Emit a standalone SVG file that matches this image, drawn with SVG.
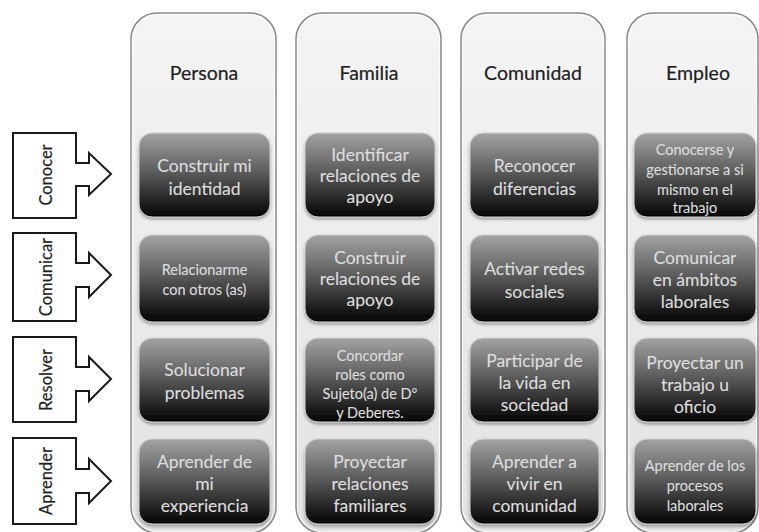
<svg xmlns="http://www.w3.org/2000/svg" width="759" height="532" viewBox="0 0 759 532">
  <defs>
    <linearGradient id="colGrad" x1="0" y1="0" x2="0" y2="1">
      <stop offset="0" stop-color="#f4f4f4"/>
      <stop offset="1" stop-color="#e2e2e2"/>
    </linearGradient>
    <linearGradient id="boxGrad" x1="0" y1="0" x2="0" y2="1">
      <stop offset="0" stop-color="#a3a3a3"/>
      <stop offset="0.45" stop-color="#5e5e5e"/>
      <stop offset="1" stop-color="#030303"/>
    </linearGradient>
    <filter id="shadow" x="-10%" y="-10%" width="120%" height="130%">
      <feDropShadow dx="0" dy="2" stdDeviation="1.5" flood-color="#000" flood-opacity="0.35"/>
    </filter>
  </defs>
  <style>
    .col { fill: url(#colGrad); stroke: #8a8a8a; stroke-width: 1.5; }
    .colin { fill: none; stroke: #ffffff; stroke-width: 1; opacity: 0.8; }
    .box { fill: url(#boxGrad); stroke: #d0d0d0; stroke-width: 1; filter: url(#shadow); }
    .hdr { font-family: Lato, "Open Sans", sans-serif; font-size: 19.5px; fill: #1e1e1e; stroke: #1e1e1e; stroke-width: 0.2; text-anchor: middle; dominant-baseline: central; }
    .t { font-family: Lato, "Open Sans", sans-serif; font-size: 17.5px; fill: #dedede; stroke: #dedede; stroke-width: 0.1; text-anchor: middle; dominant-baseline: central; }
    .s { font-family: Lato, "Open Sans", sans-serif; font-size: 14.5px; fill: #dedede; stroke: #dedede; stroke-width: 0.1; text-anchor: middle; dominant-baseline: central; }
    .arr { fill: #ffffff; stroke: #1a1a1a; stroke-width: 2; stroke-linejoin: miter; }
    .lab { font-family: Lato, "Open Sans", sans-serif; font-size: 16.5px; fill: #1e1e1e; stroke: #1e1e1e; stroke-width: 0.2; text-anchor: middle; dominant-baseline: central; }
  </style>

  <rect width="759" height="532" fill="#ffffff"/>

  <!-- Left block arrows -->
  <g id="conocer">
    <path class="arr" d="M13,133 H76 V163 H89 V153 L111,174 L89,195 V186 H76 V218 H13 Z"/>
    <text class="lab" transform="translate(46,175) rotate(-90)">Conocer</text>
  </g>
  <g id="comunicar">
    <path class="arr" d="M13,233 H76 V263 H89 V253 L111,275 L89,297 V287 H76 V321 H13 Z"/>
    <text class="lab" transform="translate(46,277) rotate(-90)">Comunicar</text>
  </g>
  <g id="resolver">
    <path class="arr" d="M13,337 H76 V367 H89 V357 L111,379 L89,401 V391 H76 V422 H13 Z"/>
    <text class="lab" transform="translate(46,380) rotate(-90)">Resolver</text>
  </g>
  <g id="aprender">
    <path class="arr" d="M13,438 H76 V469 H89 V459 L111,481 L89,503 V493 H76 V524 H13 Z"/>
    <text class="lab" transform="translate(46,481) rotate(-90)">Aprender</text>
  </g>

  <!-- Columns -->
  <g id="col-persona">
    <rect class="col" x="131" y="13" width="145" height="520" rx="26"/>
    <rect class="colin" x="132.5" y="14.5" width="142" height="517" rx="25"/>
    <text class="hdr" x="204" y="72">Persona</text>
  </g>
  <g id="col-familia">
    <rect class="col" x="296" y="13" width="145" height="520" rx="26"/>
    <rect class="colin" x="297.5" y="14.5" width="142" height="517" rx="25"/>
    <text class="hdr" x="369" y="72">Familia</text>
  </g>
  <g id="col-comunidad">
    <rect class="col" x="461" y="13" width="144" height="520" rx="26"/>
    <rect class="colin" x="462.5" y="14.5" width="141" height="517" rx="25"/>
    <text class="hdr" x="533" y="72">Comunidad</text>
  </g>
  <g id="col-empleo">
    <rect class="col" x="627" y="13" width="131" height="520" rx="26"/>
    <rect class="colin" x="628.5" y="14.5" width="128" height="517" rx="25"/>
    <text class="hdr" x="698" y="72">Empleo</text>
  </g>

  <!-- Persona boxes -->
  <g id="p1">
    <rect class="box" x="139" y="133" width="131" height="84" rx="13"/>
    <text class="t" x="204.5" y="165">Construir mi</text>
    <text class="t" x="204.5" y="188">identidad</text>
  </g>
  <g id="p2">
    <rect class="box" x="139" y="235" width="131" height="87" rx="13"/>
    <text class="s" x="204.5" y="269">Relacionarme</text>
    <text class="s" x="204.5" y="289">con otros (as)</text>
  </g>
  <g id="p3">
    <rect class="box" x="139" y="338" width="131" height="84" rx="13"/>
    <text class="t" x="204.5" y="369">Solucionar</text>
    <text class="t" x="204.5" y="392">problemas</text>
  </g>
  <g id="p4">
    <rect class="box" x="139" y="439" width="131" height="85" rx="13"/>
    <text class="t" x="204.5" y="461">Aprender de</text>
    <text class="t" x="204.5" y="483">mi</text>
    <text class="t" x="204.5" y="505">experiencia</text>
  </g>

  <!-- Familia boxes -->
  <g id="f1">
    <rect class="box" x="305" y="133" width="130" height="84" rx="13"/>
    <text class="t" x="370" y="154">Identificar</text>
    <text class="t" x="370" y="175">relaciones de</text>
    <text class="t" x="370" y="196">apoyo</text>
  </g>
  <g id="f2">
    <rect class="box" x="305" y="235" width="130" height="87" rx="13"/>
    <text class="t" x="370" y="257">Construir</text>
    <text class="t" x="370" y="278">relaciones de</text>
    <text class="t" x="370" y="299">apoyo</text>
  </g>
  <g id="f3">
    <rect class="box" x="305" y="338" width="130" height="84" rx="13"/>
    <text class="s" x="370" y="355">Concordar</text>
    <text class="s" x="370" y="374">roles como</text>
    <text class="s" x="370" y="393">Sujeto(a) de Dº</text>
    <text class="s" x="370" y="412">y Deberes.</text>
  </g>
  <g id="f4">
    <rect class="box" x="305" y="439" width="130" height="85" rx="13"/>
    <text class="t" x="370" y="461">Proyectar</text>
    <text class="t" x="370" y="483">relaciones</text>
    <text class="t" x="370" y="505">familiares</text>
  </g>

  <!-- Comunidad boxes -->
  <g id="c1">
    <rect class="box" x="470" y="133" width="129" height="84" rx="13"/>
    <text class="t" x="534.5" y="165">Reconocer</text>
    <text class="t" x="534.5" y="188">diferencias</text>
  </g>
  <g id="c2">
    <rect class="box" x="470" y="235" width="129" height="87" rx="13"/>
    <text class="t" x="534.5" y="268">Activar redes</text>
    <text class="t" x="534.5" y="291">sociales</text>
  </g>
  <g id="c3">
    <rect class="box" x="470" y="338" width="129" height="84" rx="13"/>
    <text class="t" x="534.5" y="360">Participar de</text>
    <text class="t" x="534.5" y="382">la vida en</text>
    <text class="t" x="534.5" y="404">sociedad</text>
  </g>
  <g id="c4">
    <rect class="box" x="470" y="439" width="129" height="85" rx="13"/>
    <text class="t" x="534.5" y="461">Aprender a</text>
    <text class="t" x="534.5" y="483">vivir en</text>
    <text class="t" x="534.5" y="505">comunidad</text>
  </g>

  <!-- Empleo boxes -->
  <g id="e1">
    <rect class="box" x="634" y="133" width="122" height="84" rx="13"/>
    <text class="s" x="695" y="149">Conocerse y</text>
    <text class="s" x="695" y="169">gestionarse a si</text>
    <text class="s" x="695" y="189">mismo en el</text>
    <text class="s" x="695" y="207">trabajo</text>
  </g>
  <g id="e2">
    <rect class="box" x="634" y="235" width="122" height="87" rx="13"/>
    <text class="t" x="695" y="257">Comunicar</text>
    <text class="t" x="695" y="279">en ámbitos</text>
    <text class="t" x="695" y="301">laborales</text>
  </g>
  <g id="e3">
    <rect class="box" x="634" y="338" width="122" height="84" rx="13"/>
    <text class="t" x="695" y="362">Proyectar un</text>
    <text class="t" x="695" y="384">trabajo u</text>
    <text class="t" x="695" y="406">oficio</text>
  </g>
  <g id="e4">
    <rect class="box" x="634" y="439" width="122" height="85" rx="13"/>
    <text class="s" x="695" y="465">Aprender de los</text>
    <text class="s" x="695" y="485">procesos</text>
    <text class="s" x="695" y="505">laborales</text>
  </g>

  <g id="connectors"/>
</svg>
